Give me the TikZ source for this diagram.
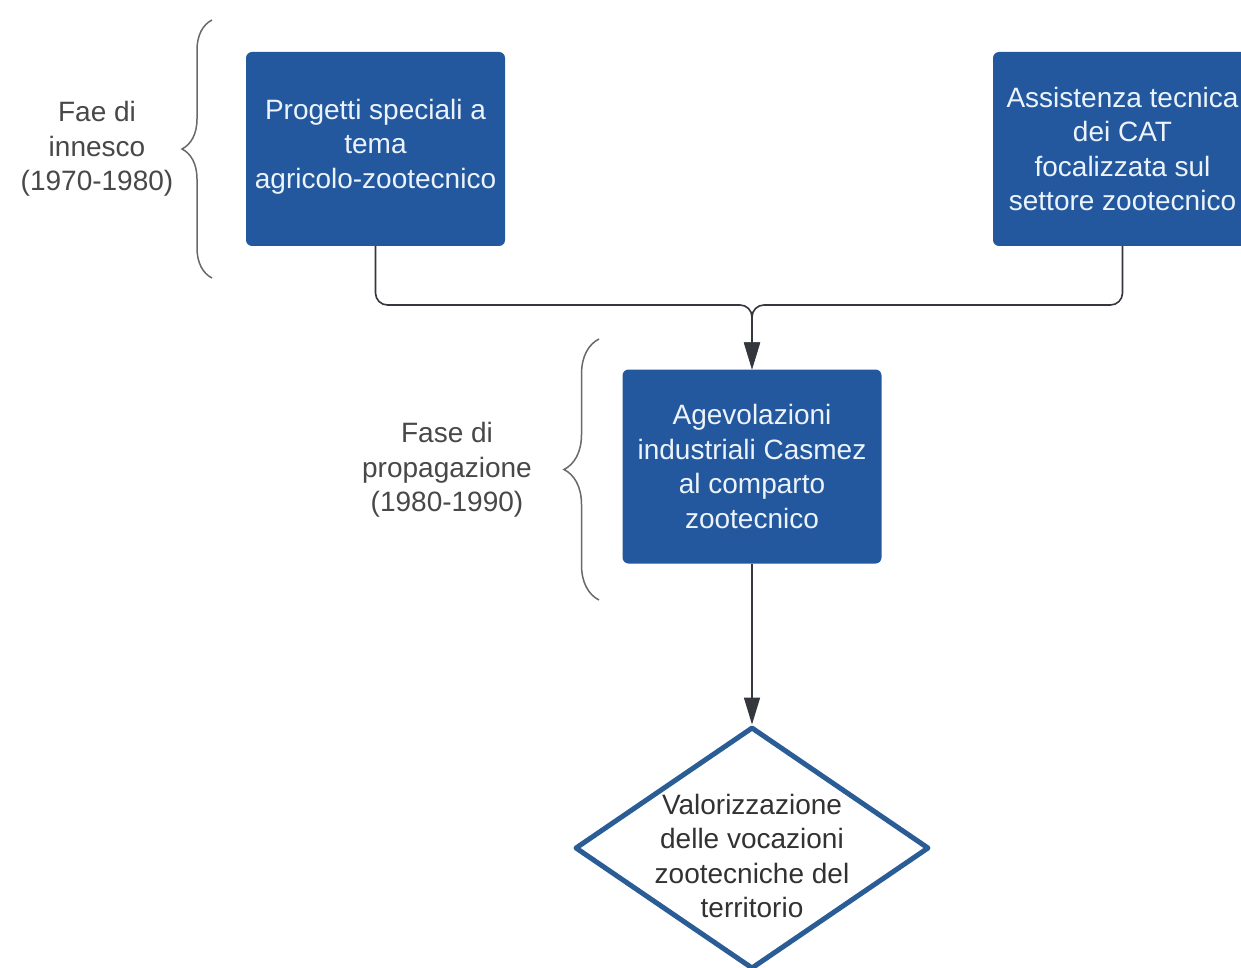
\documentclass[tikz,border=0pt]{standalone}
\usepackage{fontspec}
\setmainfont{Liberation Sans}
\usetikzlibrary{arrows.meta,shapes.geometric,decorations.pathreplacing}
\definecolor{boxblue}{RGB}{35,88,158}
\definecolor{boxtext}{RGB}{236,243,250}
\definecolor{labgray}{RGB}{72,72,72}
\definecolor{bracegray}{RGB}{105,105,105}
\definecolor{connc}{RGB}{52,55,62}
\definecolor{diablue}{RGB}{42,92,150}
\definecolor{diatext}{RGB}{50,50,50}
\begin{document}
\begin{tikzpicture}[x=1pt,y=-1pt,
  stepbox/.style={rectangle, rounded corners=6pt, fill=boxblue, text=boxtext,
    minimum width=259pt, minimum height=194pt, inner sep=0pt, align=center,
    font=\fontsize{28}{34.5}\selectfont},
  lab/.style={text=labgray, align=center, inner sep=0pt, font=\fontsize{28}{34.5}\selectfont},
  dtext/.style={text=diatext, align=center, inner sep=0pt, font=\fontsize{28}{34.5}\selectfont},
  conn/.style={draw=connc, line width=1.6pt, -{Triangle[length=27pt,width=16pt]}},
  bracestyle/.style={draw=bracegray, line width=1.5pt, decorate},
  decision/.style={diamond, draw=diablue, line width=5pt, fill=white, line join=round,
    minimum width=354pt, minimum height=242pt, inner sep=0pt, aspect=1.46}]
\useasboundingbox (0,0) rectangle (1241,968);
\clip (0,0) rectangle (1241,968);
\fill[white] (0,0) rectangle (1241,968);

% boxes
\node[stepbox] (b1) at (375.5,149) {};
\node[text=boxtext, align=center, inner sep=0pt, font=\fontsize{28}{34.5}\selectfont] (b1t) at (375.5,146.5) {Progetti speciali a\\tema\\agricolo-zootecnico};
\node[stepbox] (b2) at (1122.5,149) {Assistenza tecnica\\dei CAT\\focalizzata sul\\settore zootecnico};
\node[stepbox] (b3) at (752,466.5) {Agevolazioni\\industriali Casmez\\al comparto\\zootecnico};
\node[decision] (d) at (752,848) {};
\node[dtext] (dt) at (752,856) {Valorizzazione\\delle vocazioni\\zootecniche del\\territorio};

% phase labels
\node[lab] (l1) at (97,149) {Fae di\\innesco\\(1970-1980)};
\node[lab] (l2) at (447,470) {Fase di\\propagazione\\(1980-1990)};

% braces
\draw[bracestyle, decoration={brace, amplitude=30pt}] (212,278) -- (212,20);
\draw[bracestyle, decoration={brace, amplitude=35pt}] (599,600) -- (599,339);

% connectors
\coordinate (j) at (752,305);
\draw[conn, rounded corners=12pt] (b1.south) |- (j) -- (b3.north);
\draw[conn, rounded corners=12pt] (b2.south) |- (j) -- (b3.north);
\draw[conn] (b3.south) -- (d.north);
\end{tikzpicture}
\end{document}
